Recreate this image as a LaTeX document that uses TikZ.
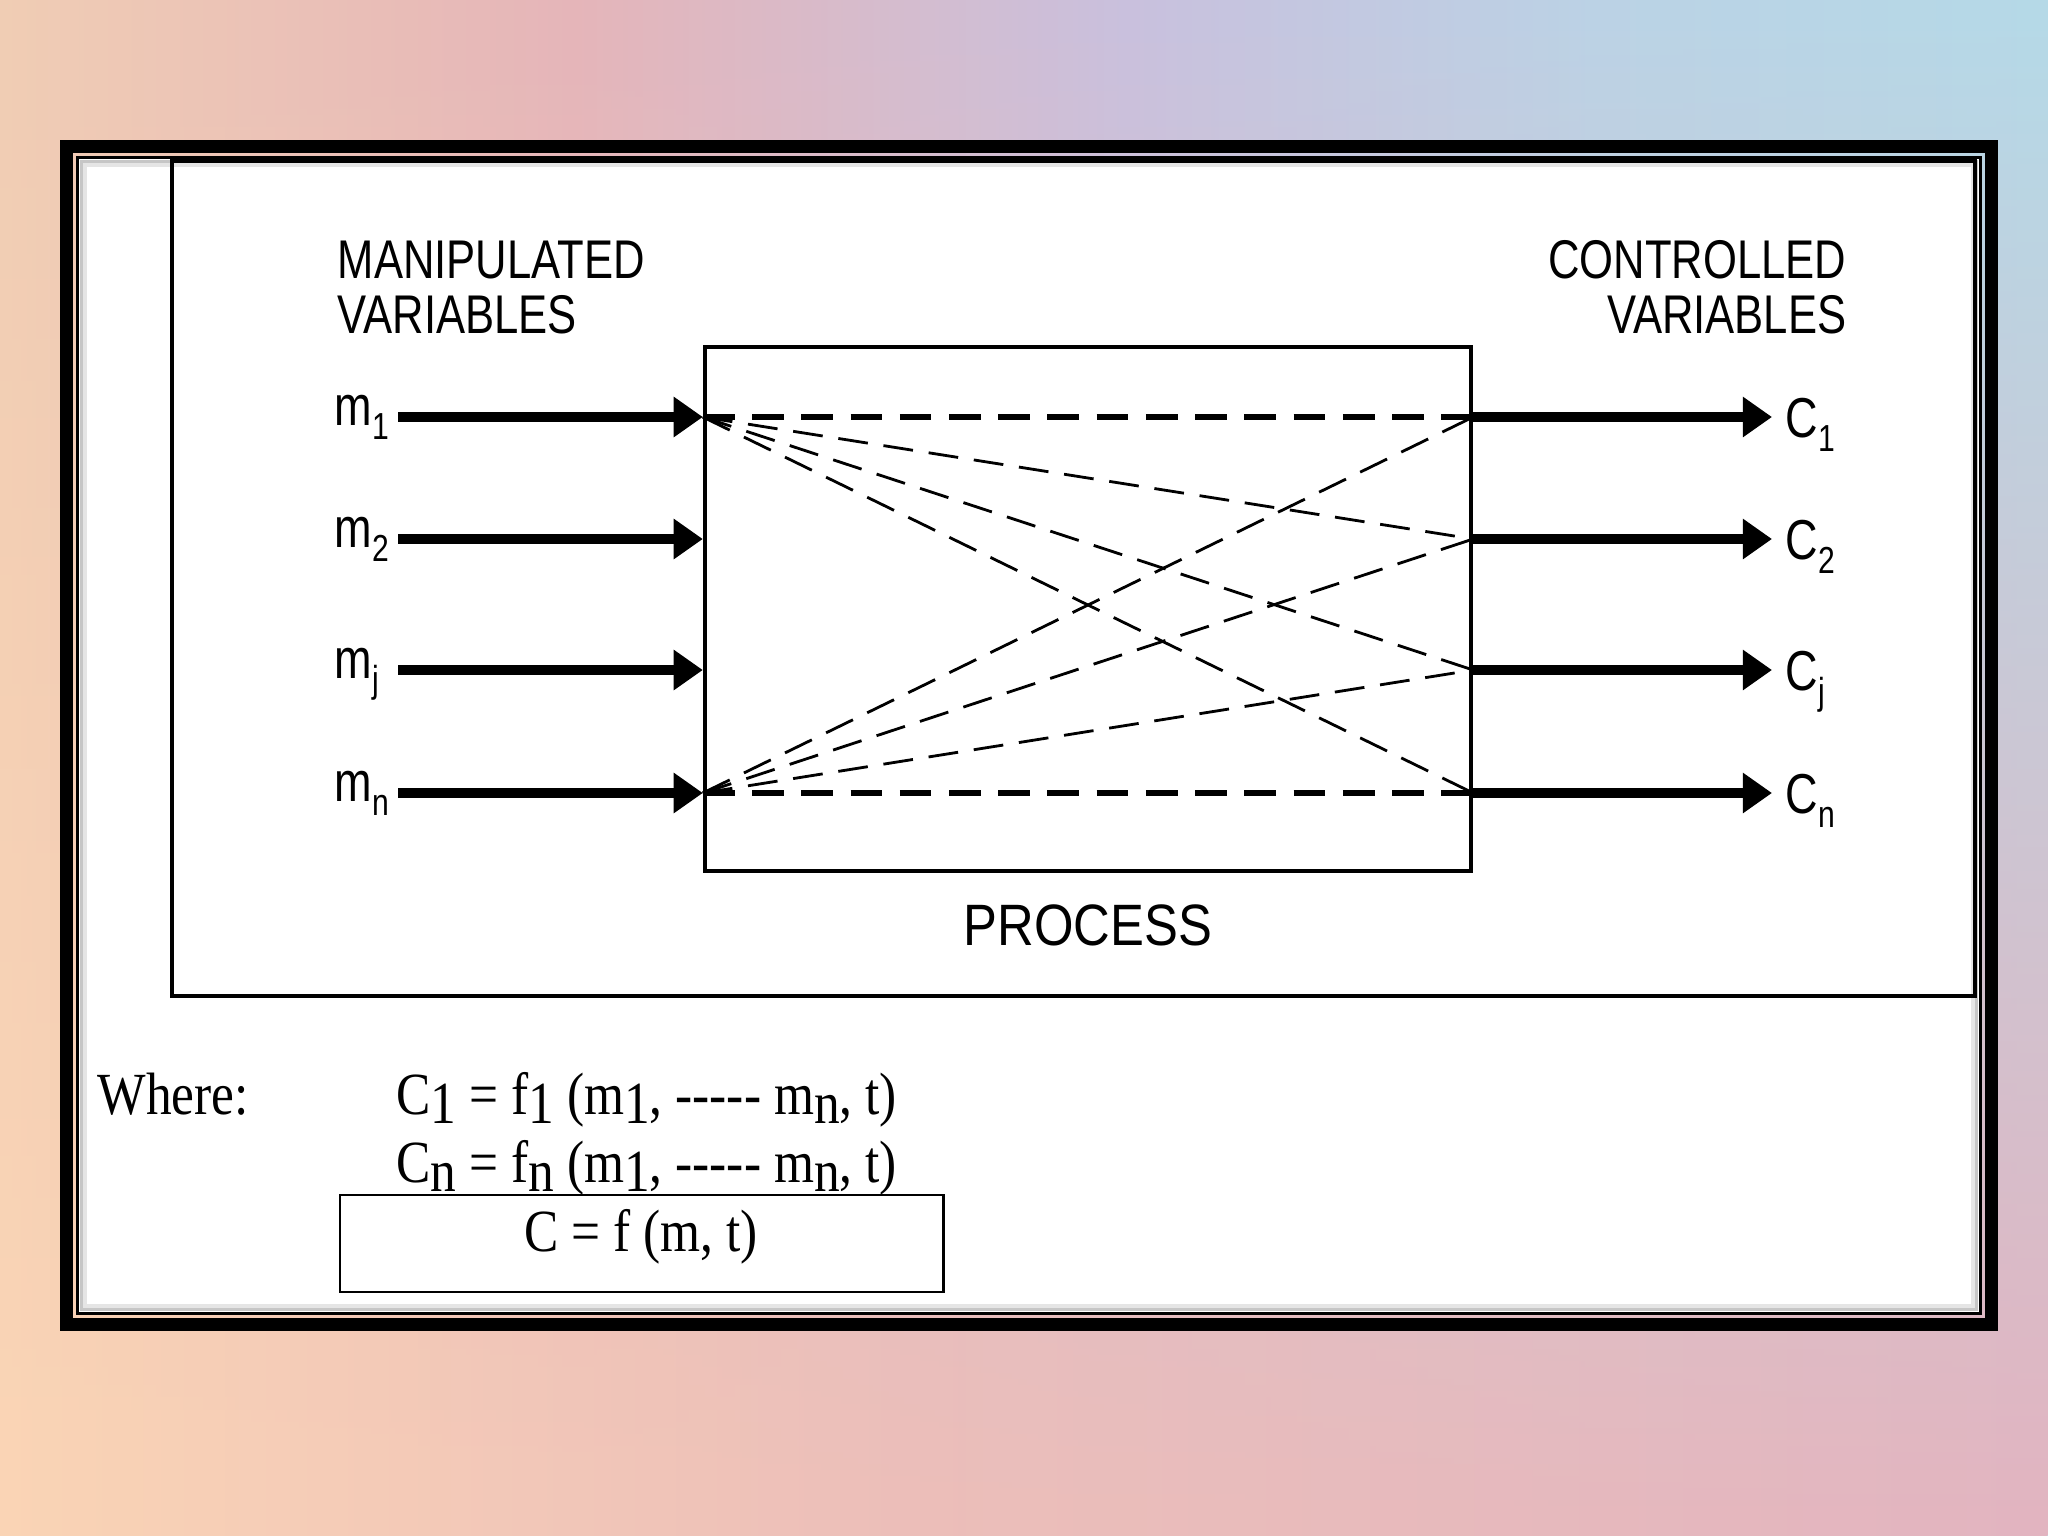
\documentclass[tikz,border=0pt]{standalone}
\usepackage{fontspec}
\usepackage{xcolor}
\definecolor{bgA}{HTML}{F0CDB4}
\definecolor{bgB}{HTML}{E5B5BA}
\definecolor{bgC}{HTML}{C9C1DE}
\definecolor{bgD}{HTML}{BBD3E6}
\definecolor{bgE}{HTML}{B5DAE8}
\definecolor{bgF}{HTML}{FBD5B6}
\definecolor{bgG}{HTML}{EDBFB9}
\definecolor{bgH}{HTML}{E3B4C0}
\usetikzlibrary{calc,arrows.meta,positioning,fadings}
\newfontfamily\labelfont[FakeStretch=0.8]{Liberation Sans}
\newfontfamily\procfont[FakeStretch=0.87]{Liberation Sans}
\newfontfamily\eqfont[FakeStretch=0.86]{Liberation Serif}
\newcommand{\lsub}[1]{\raisebox{-4pt}{\fontsize{10.7}{12}\selectfont #1}}
\newcommand{\dn}[1]{\raisebox{-2.6pt}{#1}}
\pgfdeclarehorizontalshading{skytop}{100bp}{color(0bp)=(bgA); color(25bp)=(bgA); color(39bp)=(bgB); color(52.5bp)=(bgC); color(64bp)=(bgD); color(75bp)=(bgE); color(100bp)=(bgE)}
\pgfdeclarehorizontalshading{skybot}{100bp}{color(0bp)=(bgF); color(25bp)=(bgF); color(47bp)=(bgG); color(75bp)=(bgH); color(100bp)=(bgH)}
\tikzfading[name=fade top, top color=transparent!100, bottom color=transparent!0]

\begin{document}
\begin{tikzpicture}[x=0.01cm, y=-0.01cm, >={Triangle[length=8.3pt,width=11pt]},
		flow/.style={line width=3.1pt, ->},
		hlink/.style={line width=1.7pt, dash pattern=on 9pt off 5pt},
		xlink/.style={line width=0.8pt, dash pattern=on 8.5pt off 4.5pt},
		varlbl/.style={inner sep=0pt, font=\labelfont\fontsize{16}{18}\selectfont},
		hdr/.style={inner sep=0pt, font=\labelfont\fontsize{15.5}{15.6}\selectfont},
		eqtxt/.style={inner sep=0pt, font=\eqfont\fontsize{17}{19}\selectfont}]
		\useasboundingbox (0,0) rectangle (2048,1536);
		\shade[shading=skytop] (0,0) rectangle (2048,1536);
		\shade[shading=skybot, path fading=fade top] (0,0) rectangle (2048,1536);

		\draw[line width=3.7pt] (66.5,146.5) rectangle (1991.5,1324.5);
		\draw[fill=white, line width=0.85pt] (77.5,157.5) rectangle (1980.5,1313.5);
		\draw[gray!45, line width=1pt] (81.5,161.5) rectangle (1976.5,1309.5);
		\draw[gray!20, line width=1pt] (85,165) rectangle (1973,1306);
		\draw[line width=1.1pt] (172,161) rectangle (1975,996);

		\node[draw, line width=1.1pt, minimum width=7.66cm, minimum height=5.24cm] (proc) at (1088,609) {};
		\node[inner sep=0pt, font=\procfont\fontsize{16.6}{18}\selectfont, below=0.31cm of proc] (plabel) {PROCESS};

		\node[hdr, align=left, anchor=north west] (manip) at (337,240) {MANIPULATED\\VARIABLES};
		\node[hdr, align=right, anchor=north east] (contr) at (1847,240) {CONTROLLED\\VARIABLES};

		\foreach \s/\y [count=\i] in {1/417,2/539,j/670,n/793} {
			\coordinate (src\i) at (398,\y);
			\coordinate (inp\i) at (proc.west |- 0,\y);
			\coordinate (outp\i) at (proc.east |- 0,\y);
			\coordinate (dst\i) at (1772,\y);
			\draw[flow] (src\i) -- (inp\i);
			\draw[flow] (outp\i) -- (dst\i);
			\node[varlbl, anchor=base west] (m\s) at (334,\y+8) {m\lsub{\s}};
			\node[varlbl, anchor=base west] (c\s) at (1785,\y+20) {C\lsub{\s}};
		}

		\draw[hlink] (inp1) -- (outp1);
		\draw[hlink] (inp4) -- (outp4);
		\foreach \k in {2,3,4} {
			\draw[xlink] (inp1) -- (outp\k);
		}
		\foreach \k in {1,2,3} {
			\draw[xlink] (inp4) -- (outp\k);
		}

		\node[eqtxt, anchor=base west] (where) at (97,1114) {Where:};
		\node[eqtxt, anchor=base west] (eq1) at (396,1114) {C\dn{1} = f\dn{1} (m\dn{1}, -{}-{}-{}-{}- m\dn{n}, t)};
		\node[eqtxt, anchor=base west] (eq2) at (396,1182) {C\dn{n} = f\dn{n} (m\dn{1}, -{}-{}-{}-{}- m\dn{n}, t)};
		\node[draw, line width=0.75pt, minimum width=6.03cm, minimum height=0.97cm] (resbox) at (641.5,1243.5) {};
		\node[eqtxt, anchor=base] (res) at (641,1251) {C = f (m, t)};
	\end{tikzpicture}
\end{document}
